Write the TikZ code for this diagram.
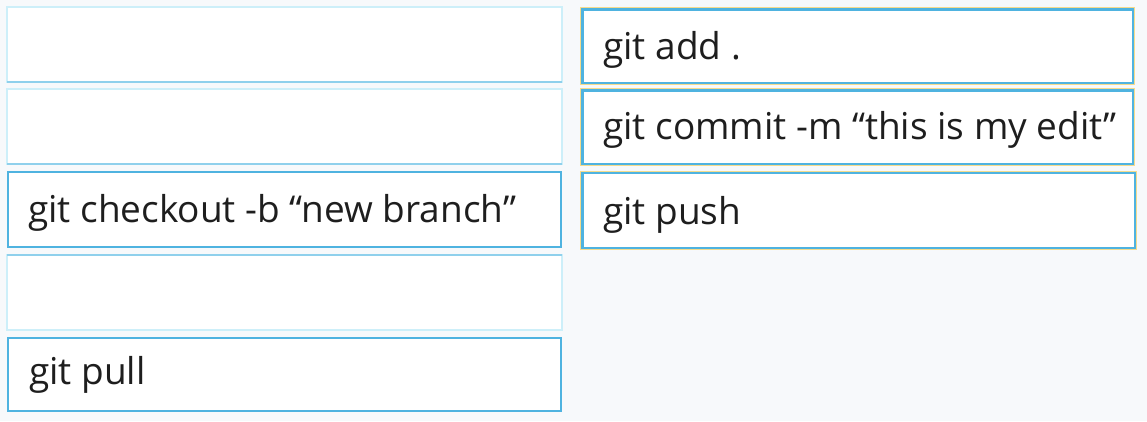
\documentclass[tikz,border=0pt]{standalone}
\usepackage{fontspec}
\setmainfont{Open Sans}
\definecolor{bgc}{HTML}{F7F9FB}
\definecolor{boxblue}{HTML}{4FB3E0}
\definecolor{lightcyan}{HTML}{CDEFF9}
\definecolor{midcyan}{HTML}{8FD0EC}
\definecolor{glow}{HTML}{F5DB8C}
\definecolor{txt}{HTML}{1E1E1E}
\tikzset{
  filledbox/.style={draw=boxblue, line width=2.4pt, fill=white},
  emptybox/.style={draw=lightcyan, line width=1.6pt, fill=white},
  glowbox/.style={draw=glow, line width=1pt},
  cmd/.style={anchor=base west, inner sep=0pt, text=txt, font=\fontsize{37}{44}\selectfont}
}
\begin{document}
\begin{tikzpicture}[x=1pt,y=-1pt]
\useasboundingbox (0,0) rectangle (1147,421);
\fill[bgc] (0,0) rectangle (1147,421);
% left column
\draw[emptybox] (7,7) rectangle (562,82);
\draw[midcyan, line width=1.4pt] (7,82) -- (562,82);
\draw[emptybox] (7,89) rectangle (562,164);
\draw[midcyan, line width=1.4pt] (7,164) -- (562,164);
\draw[filledbox] (8,172) rectangle (561,247);
\draw[emptybox] (7,255) rectangle (562,330);
\draw[midcyan, line width=1.2pt] (7,255) -- (562,255);
\draw[filledbox] (8,338) rectangle (561,411);
% right column
\draw[glowbox] (580.3,7.8) rectangle (1134.7,84.2);
\draw[filledbox] (582.5,9.5) rectangle (1133,83);
\draw[glowbox] (580.3,88.8) rectangle (1134.7,165.2);
\draw[filledbox] (582.5,90.5) rectangle (1133,164);
\draw[glowbox] (580.3,171.3) rectangle (1136.7,249.2);
\draw[filledbox] (582.5,173) rectangle (1135,248);
% texts
\node[cmd] (checkout) at (28,222) {git checkout -b “new branch”};
\node[cmd] (pull) at (29,384) {git pull};
\node[cmd] (add) at (603,59) {git add .};
\node[cmd] (commit) at (603,139) {git commit -m “this is my edit”};
\node[cmd] (push) at (603,224) {git push};
\end{tikzpicture}
\end{document}
